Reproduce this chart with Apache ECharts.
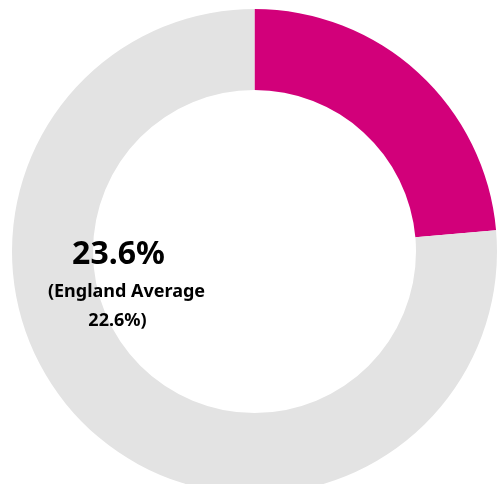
<!DOCTYPE html>
<html>
<head>
<meta charset="utf-8">
<script src="https://cdn.jsdelivr.net/npm/echarts@6/dist/echarts.min.js"></script>
<style>
html,body{margin:0;padding:0;background:#fff;}
#chart{width:499px;height:484px;}
</style>
</head>
<body>
<div id="chart"></div>
<script>
const categories = ['Local area', 'Remainder'];
const values = [23.6, 76.4];
const colors = ['#D2007A', '#E3E3E3'];
const mainLabel = '23.6%';
const subLabelLines = ['(England Average', '22.6%)'];

const chart = echarts.init(document.getElementById('chart'), null, {renderer: 'canvas'});
chart.setOption({
  animation: false,
  backgroundColor: '#ffffff',
  series: [{
    type: 'pie',
    z: 1,
    center: [254.5, 251.5],
    radius: [161.5, 242.5],
    startAngle: 90,
    clockwise: true,
    silent: true,
    label: {show: false},
    labelLine: {show: false},
    data: categories.map((c, i) => ({name: c, value: values[i], itemStyle: {color: colors[i]}}))
  }],
  graphic: {
    elements: [
      {type: 'text', z: 100, zlevel: 1, x: 118.5, y: 255, style: {text: mainLabel, font: 'bold 32px "Noto Sans"', fill: '#000', textAlign: 'center', textVerticalAlign: 'middle'}},
      {type: 'text', z: 100, zlevel: 1, x: 126.5, y: 292, style: {text: subLabelLines[0], font: 'bold 18px "Noto Sans"', fill: '#000', textAlign: 'center', textVerticalAlign: 'middle'}},
      {type: 'text', z: 100, zlevel: 1, x: 117.5, y: 321, style: {text: subLabelLines[1], font: 'bold 18px "Noto Sans"', fill: '#000', textAlign: 'center', textVerticalAlign: 'middle'}}
    ]
  }
});
</script>
</body>
</html>
